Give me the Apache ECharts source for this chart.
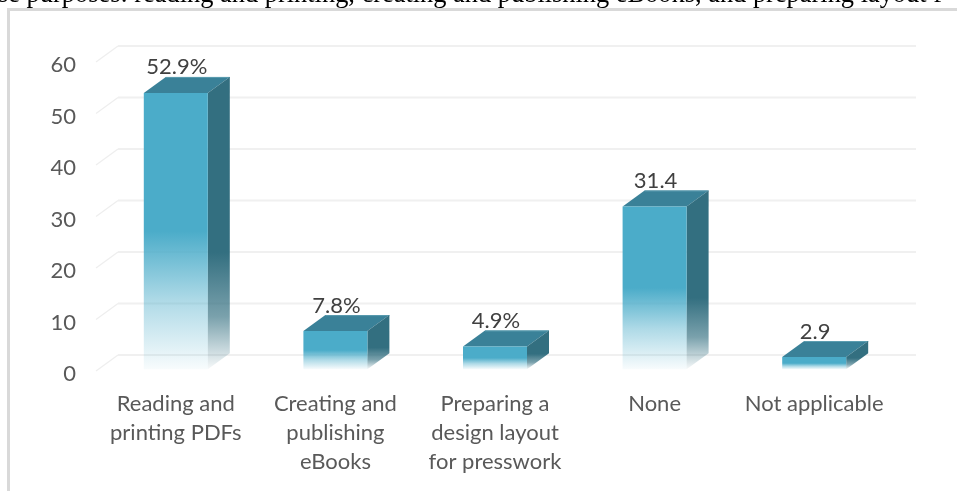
<!DOCTYPE html>
<html><head><meta charset="utf-8">
<style>html,body{margin:0;padding:0;background:#fff}#c{width:957px;height:491px}</style>
<script src="https://cdn.jsdelivr.net/npm/echarts@6/dist/echarts.min.js"></script>
</head><body><div id="c"></div>
<script>
const categories = ['Reading and\nprinting PDFs','Creating and\npublishing\neBooks','Preparing a\ndesign layout\nfor presswork','None','Not applicable'];
const values = [52.9,7.8,4.9,31.4,2.9];
const dataLabels = ['52.9%','7.8%','4.9%','31.4','2.9'];
const ticks = [0,10,20,30,40,50,60];
const captionText = 'se purposes: reading and printing, creating and publishing eBooks, and preparing layout f';

const DX = 22, DY = -16;
const fade = (c,s,m,ma) => new echarts.graphic.LinearGradient(0,0,0,1,[
  {offset:0,color:c},{offset:s,color:c},{offset:m,color:echarts.color.modifyAlpha(c,ma)},{offset:1,color:echarts.color.modifyAlpha(c,0.04)}]);

const chart = echarts.init(document.getElementById('c'),null,{renderer:'canvas'});
chart.setOption({
  animation:false,
  backgroundColor:'#fff',
  graphic:[
    {type:'rect',z:0,shape:{x:8.5,y:9.5,width:1000,height:600},style:{fill:'none',stroke:'#d9d9d9',lineWidth:3}},
    {type:'text',z:10,x:-2,y:-18,style:{text:captionText,font:'26.4px "Liberation Serif"',fill:'#000'}}
  ],
  grid:{left:96,right:63,top:62,bottom:120},
  xAxis:{type:'category',data:categories,
    axisLine:{show:false},axisTick:{show:false},
    axisLabel:{interval:0,margin:18,fontFamily:'Lato',fontSize:22,lineHeight:29,color:'#595959',verticalAlign:'top'}},
  yAxis:[
    {type:'value',min:0,max:60,interval:10,splitLine:{show:false},axisLine:{show:false},axisTick:{show:false},
     axisLabel:{margin:20,fontFamily:'Lato',fontSize:22,color:'#595959',verticalAlign:'top',lineHeight:6}},
    {type:'value',min:0.25,max:58.75,show:false,splitLine:{show:false}}
  ],
  series:[
    {type:'custom',yAxisIndex:0,z:1,silent:true,data:ticks.map(t=>[0,t]),clip:false,
     renderItem(params,api){
       const p=api.coord([0,api.value(1)]);
       const x0=params.coordSys.x, x1=x0+params.coordSys.width;
       return {type:'group',children:[
         {type:'line',shape:{x1:x0,y1:p[1],x2:x0+DX,y2:p[1]+DY},style:{stroke:'#eeeeee',lineWidth:1.2}},
         {type:'line',shape:{x1:x0+DX,y1:p[1]+DY,x2:x1+DX,y2:p[1]+DY},style:{stroke:'#f0f0f0',lineWidth:2}}
       ]};
     }},
    {type:'custom',yAxisIndex:1,z:3,silent:true,clip:false,
     data:values.map((v,i)=>[i,v,dataLabels[i]]),
     encode:{x:0,y:1},
     renderItem(params,api){
       const i=api.value(0), v=api.value(1);
       const top=api.coord([i,v]), base=api.coord([i,0]);
       const w=64, l=top[0]-w/2, r=l+w, t=top[1], b=base[1]-3;
       return {type:'group',children:[
         {type:'text',style:{text:dataLabels[i],x:top[0]+1,y:t+DY-9.5,align:'center',verticalAlign:'middle',font:'22px Lato',fill:'#404040'}},
         {type:'polygon',shape:{points:[[l,t],[r,t],[r+DX,t+DY],[l+DX,t+DY]]},style:{fill:'#3A8198'}},
         {type:'line',shape:{x1:l+DX,y1:t+DY+0.5,x2:r+DX,y2:t+DY+0.5},style:{stroke:'#5C9DB0',lineWidth:1}},
         {type:'polygon',shape:{points:[[r,t],[r+DX,t+DY],[r+DX,b+DY],[r,b]]},style:{fill:fade('#336F80',0.6,0.82,0.65)}},
         {type:'rect',shape:{x:l,y:t,width:w,height:b-t},style:{fill:fade('#4BACC9',0.5,0.75,0.45)}}
       ]};
     }}
  ]
});
</script></body></html>
